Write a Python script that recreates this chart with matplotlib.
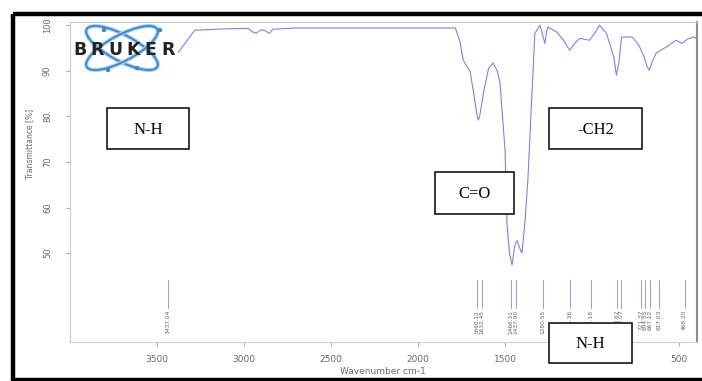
import matplotlib
matplotlib.use("Agg")
import matplotlib.pyplot as plt
from matplotlib.patches import Rectangle, Ellipse, Circle

# ---------------- data ----------------
wavenumber = [4000, 3700, 3450, 3390, 3340, 3283, 3100, 2974, 2955, 2929, 2905, 2880,
              2854, 2835, 2700, 2400, 2000, 1786, 1760, 1740, 1700, 1680, 1662, 1654,
              1646, 1620, 1595, 1569, 1545, 1529, 1500, 1489, 1475, 1460, 1445, 1431,
              1415, 1403, 1386, 1369, 1329, 1300, 1285, 1271, 1262, 1254, 1203, 1160,
              1129, 1100, 1071, 1014, 980, 957, 917, 875, 860, 845, 831, 769, 730, 700,
              685, 671, 655, 631, 574, 517, 483, 450, 414, 397]
transmittance = [93.5, 93.5, 93.4, 93.4, 96.0, 98.9, 99.2, 99.3, 98.6, 98.2, 99.0, 98.8,
                 98.2, 99.1, 99.4, 99.4, 99.4, 99.4, 96.5, 92.3, 89.7, 85.0, 80.5, 79.2,
                 80.0, 86.0, 90.5, 91.7, 90.0, 87.3, 72.6, 56.6, 50.0, 47.4, 51.5, 52.8,
                 51.0, 50.0, 56.6, 66.0, 98.2, 100.0, 98.0, 96.0, 98.5, 99.6, 98.5, 96.5,
                 94.5, 96.0, 97.1, 96.7, 98.5, 100.0, 98.2, 93.0, 89.0, 92.0, 97.4, 97.4,
                 95.5, 93.0, 91.0, 90.1, 92.0, 93.9, 95.2, 96.7, 96.0, 97.0, 97.4, 97.0]

peak_wn = [3437.04, 1660.12, 1632.45, 1466.31, 1437.90, 1280.55, 1125.36, 1005.18,
           858.62, 835.07, 721.37, 694.55, 667.12, 617.03, 468.20]
peak_labels = ["3437.04", "1660.12", "1632.45", "1466.31", "1437.90", "1280.55", "1125.36",
               "1005.18", "858.62", "835.07", "721.37", "694.55", "667.12", "617.03", "468.20"]

x_ticks = [3500, 3000, 2500, 2000, 1500, 1000, 500]
y_ticks = [50, 60, 70, 80, 90, 100]

annotations = ["N-H", "-CH2", "C=O", "N-H"]

# ---------------- figure ----------------
W, H = 702, 381
fig = plt.figure(figsize=(W / 100, H / 100), dpi=100)
fig.patch.set_facecolor("white")

ax = fig.add_axes([70 / W, (H - 342) / H, 627 / W, 320 / H])
ax.plot(wavenumber, transmittance, color="#7474da", lw=0.8, alpha=0.9)
ax.set_xlim(4000, 397)
ax.set_ylim(30.5, 100.7)

# peak markers
for wn, lab in zip(peak_wn, peak_labels):
    ax.plot([wn, wn], [44.0, 38.0], color="#8a8ad8", lw=0.6)
    ax.text(wn, 37.6, lab, rotation=90, ha="center", va="top", fontsize=4.2,
            color="#666666")

ax.set_xticks(x_ticks)
ax.set_xticklabels([str(v) for v in x_ticks])
ax.set_yticks(y_ticks)
ax.set_yticklabels([str(v) for v in y_ticks], rotation=90, va="center")
ax.tick_params(axis="both", colors="#999999", labelcolor="#666666", labelsize=6.5,
               length=3, width=0.6)
ax.tick_params(axis="y", labelsize=6, pad=10)
ax.tick_params(axis="x", pad=6)
for side, col, lw in [("left", "#c8c8c8", 0.8), ("top", "#c8c8c8", 0.8),
                      ("bottom", "#d0d0d0", 0.8), ("right", "#8c8c8c", 1.5)]:
    ax.spines[side].set_color(col)
    ax.spines[side].set_linewidth(lw)

fig.text(383 / W, 1 - 371 / H, "Wavenumber cm-1", ha="center", va="center",
         fontsize=6.5, color="#666666")
fig.text(30 / W, 1 - 144 / H, "Transmittance [%]", ha="center", va="center",
         rotation=90, fontsize=5.5, color="#666666")

# ---------------- overlay (pixel coordinates) ----------------
ov = fig.add_axes([0, 0, 1, 1], zorder=5)
ov.set_xlim(0, W)
ov.set_ylim(H, 0)
ov.axis("off")
ov.patch.set_alpha(0)

# outer black frame
ov.add_patch(Rectangle((13, 14), 700, 366, fill=False, ec="black", lw=3.2))

# Bruker logo
ov.add_patch(Rectangle((71, 24), 107, 51, fc="white", ec="none"))
for ang in (28, -28):
    ov.add_patch(Ellipse((122, 48), 80, 26, angle=ang, fill=False,
                         ec="#a8d0f0", lw=3.0))
    ov.add_patch(Ellipse((122, 48), 80, 26, angle=ang, fill=False,
                         ec="#3f86c8", lw=1.3))
for cx, cy in [(104, 30), (108, 70), (160, 30), (137, 68)]:
    ov.add_patch(Circle((cx, cy), 2.2, fc="#3f86c8", ec="none"))
for i, ch in enumerate("BRUKER"):
    ov.text(80 + i * 17.6, 50, ch, ha="center", va="center", fontsize=12.5,
            fontweight="heavy", color="#222222", family="DejaVu Sans")

# annotation boxes
boxes = [(107, 108, 82, 41), (549, 108, 93, 41), (435, 172, 79, 42), (549, 323, 83, 40)]
for (bx, by, bw, bh), txt in zip(boxes, annotations):
    ov.add_patch(Rectangle((bx, by), bw, bh, fc="white", ec="black", lw=1.1))
    ov.text(bx + bw / 2, by + bh / 2 + 1, txt, ha="center", va="center",
            fontsize=12, family="Liberation Serif", color="black")

fig.savefig("out.png", dpi=100)
